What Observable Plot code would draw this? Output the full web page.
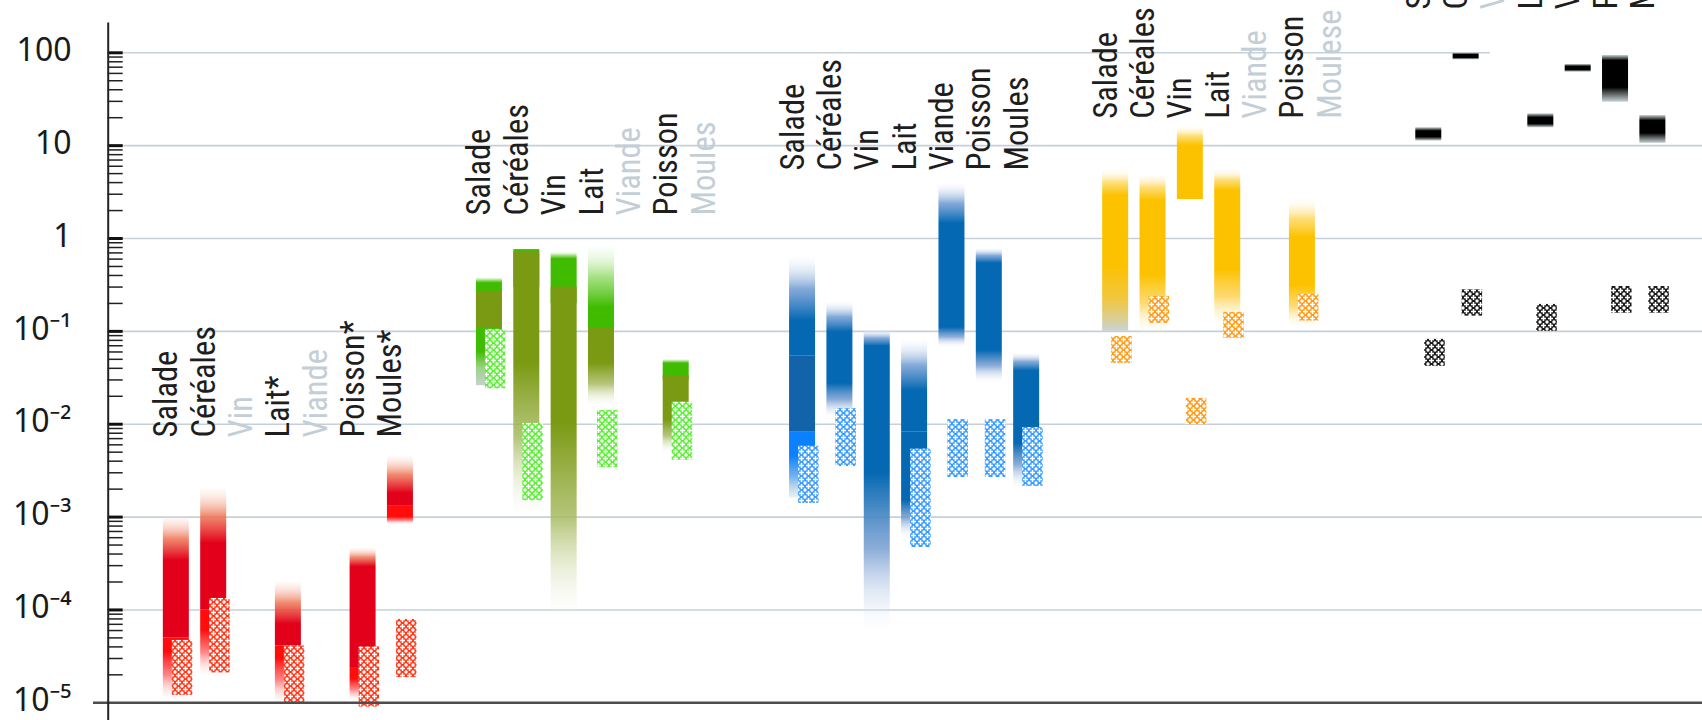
<!DOCTYPE html>
<html><head><meta charset="utf-8">
<script src="https://cdn.jsdelivr.net/npm/d3@7"></script>
<script src="https://cdn.jsdelivr.net/npm/@observablehq/plot@0.6"></script>
<style>
html,body{margin:0;padding:0;background:#fff;overflow:hidden;}
#chart{position:relative;width:1702px;height:720px;}
#chart svg{display:block;position:absolute;left:0;top:0;}
</style></head><body><div id="chart"></div>
<script>
// ---------- data ----------
const categories = ["Salade","Céréales","Vin","Lait","Viande","Poisson","Moules"];
const groupNames = ["rouge","vert","bleu","jaune","noir"];

const labelsRouge = ["Salade","Céréales","Vin","Lait*","Viande","Poisson*","Moules*"];
const labelsVert  = ["Salade","Céréales","Vin","Lait","Viande","Poisson","Moules"];
const labelsBleu  = ["Salade","Céréales","Vin","Lait","Viande","Poisson","Moules"];
const labelsJaune = ["Salade","Céréales","Vin","Lait","Viande","Poisson","Moulese"];
const labelsNoir  = ["Salade","Céréales","Vin","Lait","Viande","Poisson","Moules"];
// value on the y axis where each group's labels start
const labelLevel = [7.2e-3, 1.77, 5.4, 19.5, 292];

// [category, layer, low, high, solidLow, solidHigh]
const barsRouge = [
  ["Salade",   "rougeVif",   1.1e-5, 5.0e-5, 3.5e-5, 5.0e-5],
  ["Salade",   "rougeFonce", 5.0e-5, 1.0e-3, 5.0e-5, 3.4e-4],
  ["Céréales", "rougeVif",   2.0e-5, 1.0e-4, 6.0e-5, 1.0e-4],
  ["Céréales", "rougeFonce", 1.0e-4, 2.0e-3, 1.0e-4, 5.2e-4],
  ["Lait",     "rougeVif",   1.0e-5, 4.1e-5, 3.0e-5, 4.1e-5],
  ["Lait",     "rougeFonce", 4.1e-5, 2.0e-4, 4.1e-5, 7.0e-5],
  ["Poisson",  "rougeVif",   1.06e-5, 2.4e-5, 1.8e-5, 2.4e-5],
  ["Poisson",  "rougeFonce", 2.4e-5, 4.6e-4, 2.4e-5, 2.9e-4],
  ["Moules",   "rougeVif",   8.3e-4, 1.33e-3, 1.0e-3, 1.33e-3],
  ["Moules",   "rougeFonce", 1.33e-3, 4.5e-3, 1.33e-3, 1.8e-3]
];
const barsVert = [
  ["Salade",   "vertGris", 0.026, 0.38, 0.06, 0.33],
  ["Salade",   "olive",    0.11, 0.27, 0.11, 0.27],
  ["Céréales", "vert",     0.3, 0.76, 0.3, 0.76],
  ["Céréales", "olive",    1.13e-3, 0.71, 0.045, 0.71],
  ["Vin",      "vert",     0.2, 0.71, 0.2, 0.6],
  ["Vin",      "olive",    9.2e-5, 0.30, 0.01, 0.30],
  ["Lait",     "vert",     0.1, 0.81, 0.1, 0.18],
  ["Lait",     "olive",    0.016, 0.11, 0.045, 0.11],
  ["Poisson",  "vert",     0.03, 0.05, 0.03, 0.045],
  ["Poisson",  "olive",    5.0e-3, 0.0335, 0.011, 0.0335]
];
const barsBleu = [
  ["Salade",   "bleuVif",    1.6e-3, 8.2e-3, 4.5e-3, 8.2e-3],
  ["Salade",   "bleuSombre", 8.2e-3, 0.054, 8.2e-3, 0.054],
  ["Salade",   "bleu",       0.054, 0.63, 0.054, 0.13],
  ["Céréales", "bleu",       0.0119, 0.206, 0.0275, 0.098],
  ["Vin",      "bleu",       6.5e-5, 0.102, 3.0e-3, 0.069],
  ["Lait",     "bleu",       6.1e-4, 8.2e-3, 1.5e-3, 8.2e-3],
  ["Lait",     "bleu",       8.2e-3, 0.080, 8.2e-3, 0.023],
  ["Viande",   "bleu",       0.068, 3.9, 0.11, 1.45],
  ["Poisson",  "bleu",       0.0284, 0.78, 0.062, 0.54],
  ["Moules",   "bleu",       2.1e-3, 0.058, 6.2e-3, 0.0375]
];
const barsJaune = [
  ["Salade",   "jauneGris", 0.1, 5.4, 0.5, 2.9],
  ["Céréales", "jaune",     0.098, 4.8, 0.4, 2.6],
  ["Vin",      "jaune",     2.63, 15.8, 2.63, 10],
  ["Lait",     "jaune",     0.116, 5.4, 0.46, 3.3],
  ["Poisson",  "jaune",     0.111, 2.57, 0.31, 1.03]
];
const barsNoir = [
  ["Salade",   "noir", 11.2, 15.6, 12.3, 14.3],
  ["Céréales", "noir", 84, 99, 88, 95],
  ["Lait",     "noir", 15.6, 22, 17, 20],
  ["Viande",   "noir", 61.8, 74.8, 65, 71],
  ["Poisson",  "noir", 29.4, 93.5, 42, 82],
  ["Moules",   "noir", 10.6, 21.1, 13.5, 18.5]
];

// hatched boxes: [category, low, high]
const hatchRouge = [["Salade",1.2e-5,4.7e-5],["Céréales",2.1e-5,1.33e-4],["Lait",1.0e-5,4.1e-5],["Poisson",9e-6,4.0e-5],["Moules",1.87e-5,7.9e-5]];
const hatchVert  = [["Salade",0.024,0.105],["Céréales",1.5e-3,0.0102],["Lait",3.4e-3,0.0141],["Poisson",4.1e-3,0.0173]];
const hatchBleu  = [["Salade",1.4e-3,5.8e-3],["Céréales",3.5e-3,0.0147],["Lait",4.7e-4,5.4e-3],["Viande",2.67e-3,0.0112],["Poisson",2.67e-3,0.0112],["Moules",2.14e-3,9.2e-3]];
const hatchJaune = [["Salade",0.045,0.088],["Céréales",0.122,0.238],["Vin",0.0099,0.019],["Lait",0.084,0.16],["Poisson",0.129,0.25]];
const hatchNoir  = [["Salade",0.042,0.082],["Céréales",0.146,0.28],["Lait",0.1,0.195],["Poisson",0.157,0.304],["Moules",0.157,0.304]];

const yTicks = [100, 10, 1, 0.1, 0.01, 0.001, 0.0001, 0.00001];
const yTickLabels = ["100", "10", "1", "10⁻¹", "10⁻²", "10⁻³", "10⁻⁴", "10⁻⁵"];

// ---------- styles ----------
const layerStyle = {
  rougeFonce: {color:"#e2001a", topTint:"#ee7656", topEnd:"#fbe2d6", topOp:0.15, botTint:"#ef5a5a", botEnd:"#ffe6e6", botOp:0},
  rougeVif:   {color:"#ff0d0d", topTint:"#ff6a6a", topEnd:"#ffe8e8", topOp:0,    botTint:"#ff6f6f", botEnd:"#ffe6e6", botOp:0.1},
  olive:      {color:"#7b9a14", topTint:"#a9bf5a", topEnd:"#eef2dc", topOp:0,    botTint:"#a8bb62", botEnd:"#f4f6ea", botOp:0.1},
  vert:       {color:"#3fbc00", topTint:"#96dc6e", topEnd:"#e9f8e0", topOp:0.15, botTint:"#96dc6e", botEnd:"#e9f8e0", botOp:0},
  vertGris:   {color:"#3fbc00", topTint:"#96dc6e", topEnd:"#e9f8e0", topOp:0.15, botTint:"#8ccb72", botEnd:"#c6d2d2", botOp:1},
  bleu:       {color:"#0468b3", topTint:"#6f9bd2", topEnd:"#eef2fa", topOp:0.1,  botTint:"#7a9fd2", botEnd:"#eef2fa", botOp:0.1},
  bleuSombre: {color:"#1363aa", topTint:"#1363aa", topEnd:"#1363aa", topOp:1,    botTint:"#1363aa", botEnd:"#1363aa", botOp:1},
  bleuVif:    {color:"#0a82ff", topTint:"#4aa0ff", topEnd:"#d8e8f8", topOp:0.3,  botTint:"#5ea6ea", botEnd:"#d4e2e2", botOp:0.5},
  jaune:      {color:"#fcc200", topTint:"#fdd860", topEnd:"#fff6dc", topOp:0.1,  botTint:"#fdd45a", botEnd:"#fff8e6", botOp:0.1},
  jauneGris:  {color:"#fcc200", topTint:"#fdd860", topEnd:"#fff6dc", topOp:0.1,  botTint:"#efbd1c", botEnd:"#c8d4d4", botOp:1},
  noir:       {color:"#000000", topTint:"#4a5252", topEnd:"#b8c4c4", topOp:0.8,  botTint:"#4a5252", botEnd:"#b8c4c4", botOp:0.8}
};
const hatchColors = {rouge:"#ff3a1c", vert:"#5eee3a", bleu:"#3a9cff", jaune:"#ff9c1a", noir:"#1a1a1a"};

// ---------- layout ----------
const W = 1702, H = 720;
const SLOT = 37.35, X0 = 162.84, GROUP_STEP = 313.11 / SLOT;
const xDomain = [-X0 / SLOT, (W - X0) / SLOT];
const axisX = (107.7 - X0) / SLOT;
const tickLen = 15 / SLOT;
const slot = (g, cat) => g * GROUP_STEP + categories.indexOf(cat);

const barSets = [barsRouge, barsVert, barsBleu, barsJaune, barsNoir];
const hatchSets = [hatchRouge, hatchVert, hatchBleu, hatchJaune, hatchNoir];
const labelSets = [labelsRouge, labelsVert, labelsBleu, labelsJaune, labelsNoir];

const bars = barSets.flatMap((rows, g) => rows.map(([cat, layer, low, high, solidLow, solidHigh], k) =>
  ({g, cat, layer, low, high, solidLow, solidHigh, id: `grad-${g}-${k}`})));
const hatches = hatchSets.flatMap((rows, g) => rows.map(([cat, low, high]) => ({g, cat, low, high})));
const labels = labelSets.flatMap((names, g) => names.map((text, i) => ({
  g, cat: categories[i], text, level: labelLevel[g],
  empty: !bars.some(b => b.g === g && b.cat === categories[i])
})));

const minorTicks = yTicks.slice(1).flatMap(d => [2,3,4,5,6,7,8,9].map(k => d * k));

const frame = {
  width: W, height: H,
  marginLeft: 0, marginRight: 0, marginTop: 52.3, marginBottom: 17.7,
  x: {type: "linear", domain: xDomain, axis: null},
  y: {type: "log", domain: [1e-5, 100], axis: null}
};

// main chart: grid, bars, hatched boxes, labels
const svg = Plot.plot({
  ...frame,
  color: {type: "identity"},
  style: {background: "#fff"},
  marks: [
    Plot.ruleY(yTicks.slice(0, -1), {
      x1: axisX, x2: d => d === 100 ? slot(4, "Céréales") + 1 : xDomain[1],
      stroke: "#c6d0d9", strokeWidth: 1.6
    }),
    Plot.rect(bars, {
      x1: d => slot(d.g, d.cat), x2: d => slot(d.g, d.cat) + 1,
      y1: "low", y2: "high", insetRight: SLOT - 26,
      fill: d => `url(#${d.id})`
    }),
    Plot.rect(hatches, {
      x1: d => slot(d.g, d.cat), x2: d => slot(d.g, d.cat) + 1,
      y1: "low", y2: "high", insetLeft: 9, insetRight: SLOT - 29.5,
      fill: d => `url(#hatch-${groupNames[d.g]})`
    }),
    Plot.text(labels, {
      x: d => slot(d.g, d.cat), y: "level", text: "text",
      rotate: -90, textAnchor: "start", lineAnchor: "bottom", dx: 14,
      fontSize: 32.5, fontFamily: "'Liberation Sans Narrow', 'Arial Narrow', 'Roboto Condensed', sans-serif",
      fill: d => d.empty ? "#c3ced6" : "#1e1e1e"
    }),
    Plot.ruleY([1e-5], {x1: (93 - X0) / SLOT, x2: xDomain[1], stroke: "#4d4d4d", strokeWidth: 2.5})
  ]
});

// axis layer: same scales, transparent, drawn on top
const axisSvg = Plot.plot({
  ...frame,
  style: {background: "transparent"},
  marks: [
    Plot.ruleY(minorTicks, {x1: axisX, x2: axisX + tickLen, stroke: "#222", strokeWidth: 1.5}),
    Plot.ruleY(yTicks.slice(0, -1), {x1: axisX, x2: axisX + tickLen, stroke: "#111", strokeWidth: 3}),
    Plot.ruleX([axisX], {y1: 5e-6, y2: 210, stroke: "#222", strokeWidth: 2}),
    Plot.text(yTicks, {
      x: axisX, y: d => d, text: (d, i) => yTickLabels[i],
      textAnchor: "end", lineAnchor: "middle", dx: -36.7, dy: -2,
      fontSize: 32, fontFamily: "'Noto Sans', sans-serif", fill: "#1a1a1a"
    })
  ]
});
axisSvg.style.pointerEvents = "none";

// ---------- gradients & patterns ----------
const yScale = svg.scale("y");
const defs = d3.select(svg).append("defs");
for (const [name, color] of Object.entries(hatchColors)) {
  const p = defs.append("pattern").attr("id", `hatch-${name}`)
    .attr("patternUnits", "userSpaceOnUse").attr("width", 7).attr("height", 7);
  p.append("rect").attr("width", 7).attr("height", 7).attr("fill", color);
  p.append("rect").attr("x", 2.75).attr("y", 1).attr("width", 1.5).attr("height", 5).attr("fill", "#fff");
  p.append("rect").attr("x", 1).attr("y", 2.75).attr("width", 5).attr("height", 1.5).attr("fill", "#fff");
  for (const [cx, cy] of [[0,0],[7,0],[0,7],[7,7]])
    p.append("circle").attr("cx", cx).attr("cy", cy).attr("r", 1.7).attr("fill", "#fff");
}
for (const b of bars) {
  const st = layerStyle[b.layer];
  const yHi = yScale.apply(b.high), yLo = yScale.apply(b.low);
  const h = yLo - yHi;
  const stops = [];
  if (b.solidHigh < b.high) {
    const t = (yScale.apply(b.solidHigh) - yHi) / h;
    stops.push([0, st.topEnd, st.topOp], [t * 0.5, st.topTint, 0.85], [t, st.color, 1]);
  } else stops.push([0, st.color, 1]);
  if (b.solidLow > b.low) {
    const t = (yScale.apply(b.solidLow) - yHi) / h;
    stops.push([t, st.color, 1], [t + (1 - t) * 0.5, st.botTint, 0.85], [1, st.botEnd, st.botOp]);
  } else stops.push([1, st.color, 1]);
  const lg = defs.append("linearGradient").attr("id", b.id)
    .attr("gradientUnits", "userSpaceOnUse")
    .attr("x1", 0).attr("x2", 0).attr("y1", yHi).attr("y2", yLo);
  for (const [o, c, op] of stops)
    lg.append("stop").attr("offset", Math.max(0, Math.min(1, o))).attr("stop-color", c).attr("stop-opacity", op);
}

const chart = document.getElementById("chart");
chart.append(svg);
chart.append(axisSvg);
</script>
</body></html>
